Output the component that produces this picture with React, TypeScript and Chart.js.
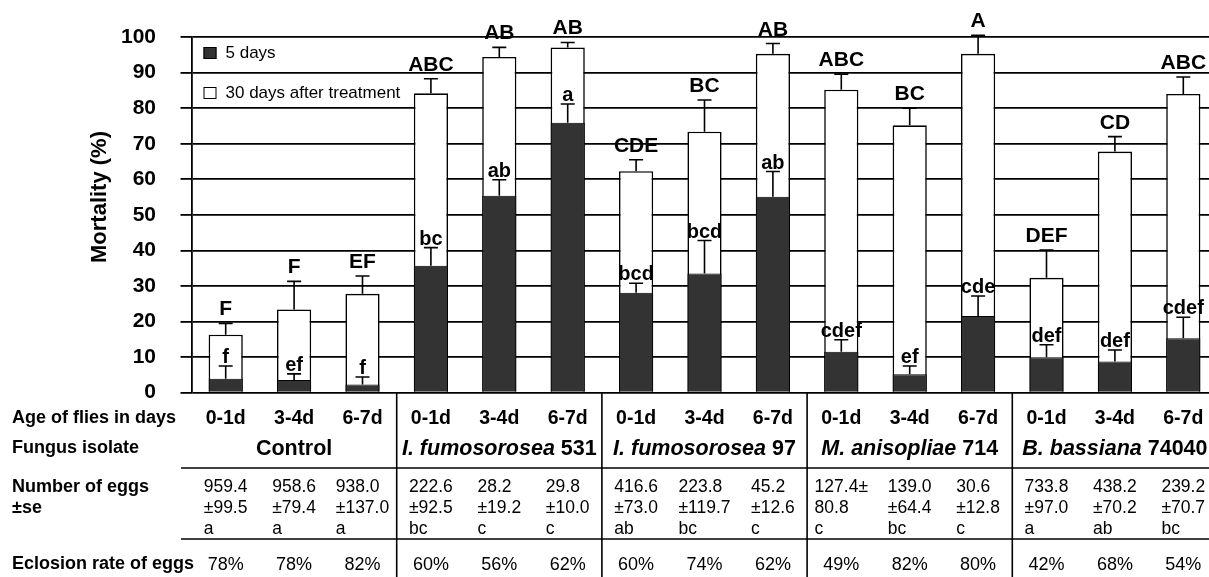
import React, { useEffect, useRef } from 'react';
import { Chart, registerables } from 'chart.js';

Chart.register(...registerables);

// ---- data ----
const ages = ['0-1d', '3-4d', '6-7d', '0-1d', '3-4d', '6-7d', '0-1d', '3-4d', '6-7d', '0-1d', '3-4d', '6-7d', '0-1d', '3-4d', '6-7d'];
const groupItalic = ['', 'I. fumosorosea', 'I. fumosorosea', 'M. anisopliae', 'B. bassiana'];
const groupPlain = ['Control', ' 531', ' 97', ' 714', ' 74040'];

const mort5 = [3.9, 3.6, 2.3, 35.7, 55.4, 75.9, 28.1, 33.5, 55.1, 11.5, 5.2, 21.6, 10.0, 8.8, 15.3];
const se5 = [3.6, 1.7, 2.1, 5.1, 4.5, 5.3, 2.7, 9.3, 7.1, 3.4, 2.3, 5.6, 3.5, 3.2, 5.9];
const mort30 = [16.3, 23.4, 27.8, 84.2, 94.4, 97.1, 62.3, 73.4, 95.3, 85.2, 75.2, 95.3, 32.3, 67.8, 84.0];
const se30 = [3.2, 7.9, 5.0, 4.1, 2.7, 1.4, 3.2, 8.9, 2.9, 4.4, 4.8, 5.2, 7.8, 4.2, 4.8];

const upperLetters = ['F', 'F', 'EF', 'ABC', 'AB', 'AB', 'CDE', 'BC', 'AB', 'ABC', 'BC', 'A', 'DEF', 'CD', 'ABC'];
const lowerLetters = ['f', 'ef', 'f', 'bc', 'ab', 'a', 'bcd', 'bcd', 'ab', 'cdef', 'ef', 'cde', 'def', 'def', 'cdef'];

const eggLine1 = ['959.4', '958.6', '938.0', '222.6', '28.2', '29.8', '416.6', '223.8', '45.2', '127.4±', '139.0', '30.6', '733.8', '438.2', '239.2'];
const eggLine2 = ['±99.5', '±79.4', '±137.0', '±92.5', '±19.2', '±10.0', '±73.0', '±119.7', '±12.6', '80.8', '±64.4', '±12.8', '±97.0', '±70.2', '±70.7'];
const eggLetters = ['a', 'a', 'a', 'bc', 'c', 'c', 'ab', 'bc', 'c', 'c', 'bc', 'c', 'a', 'ab', 'bc'];
const eclosion = ['78%', '78%', '82%', '60%', '56%', '62%', '60%', '74%', '62%', '49%', '82%', '80%', '42%', '68%', '54%'];

const yTicks = [0, 10, 20, 30, 40, 50, 60, 70, 80, 90, 100];
const legendLabels = ['5 days', '30 days after treatment'];
const yTitle = 'Mortality (%)';
const rowLabels = ['Age of flies in days', 'Fungus isolate', 'Number of eggs', '±se', 'Eclosion rate of eggs'];

const FONT = '"Liberation Sans", Arial, Helvetica, sans-serif';

export default function App() {
  const ref = useRef<HTMLCanvasElement>(null);

  useEffect(() => {
    if (!ref.current) return;

    const overlay = {
      id: 'overlay',
      afterDatasetsDraw(chart: any) {
        const ctx = chart.ctx as CanvasRenderingContext2D;
        const xs = chart.scales.x;
        const ys = chart.scales.y;
        const area = chart.chartArea;
        const W = chart.width;
        const H = chart.height;
        ctx.save();

        // error bars
        ctx.strokeStyle = '#000';
        ctx.lineWidth = 1.6;
        const cap = 7;
        const drawErr = (cx: number, v: number, e: number) => {
          const y0 = ys.getPixelForValue(v);
          const y1 = ys.getPixelForValue(v + e);
          ctx.beginPath();
          ctx.moveTo(cx, y0);
          ctx.lineTo(cx, y1);
          ctx.moveTo(cx - cap, y1);
          ctx.lineTo(cx + cap, y1);
          ctx.stroke();
        };
        for (let i = 0; i < ages.length; i++) {
          const cx = xs.getPixelForValue(i);
          drawErr(cx, mort30[i], se30[i]);
          drawErr(cx, mort5[i], se5[i]);
        }

        // letters
        ctx.fillStyle = '#000';
        ctx.textAlign = 'center';
        ctx.textBaseline = 'alphabetic';
        ctx.font = `bold 21px ${FONT}`;
        for (let i = 0; i < ages.length; i++) {
          const cx = xs.getPixelForValue(i);
          ctx.fillText(upperLetters[i], cx, ys.getPixelForValue(mort30[i] + se30[i]) - 8);
        }
        ctx.font = `bold 20px ${FONT}`;
        for (let i = 0; i < ages.length; i++) {
          const cx = xs.getPixelForValue(i);
          ctx.fillText(lowerLetters[i], cx, ys.getPixelForValue(mort5[i] + se5[i]) - 3);
        }

        // legend
        const lx = area.left + 12;
        ctx.lineWidth = 1;
        ctx.fillStyle = '#333';
        ctx.fillRect(lx, 47, 13, 12);
        ctx.strokeStyle = '#000';
        ctx.strokeRect(lx + 0.5, 47.5, 12, 11);
        ctx.fillStyle = '#fff';
        ctx.fillRect(lx, 87, 13, 12);
        ctx.strokeRect(lx + 0.5, 87.5, 12, 11);
        ctx.fillStyle = '#000';
        ctx.font = `17px ${FONT}`;
        ctx.textAlign = 'left';
        ctx.textBaseline = 'middle';
        ctx.fillText(legendLabels[0], lx + 22, 53);
        ctx.fillText(legendLabels[1], lx + 22, 93);

        // y title
        ctx.save();
        ctx.translate(100, 197);
        ctx.rotate(-Math.PI / 2);
        ctx.font = `bold 22px ${FONT}`;
        ctx.textAlign = 'center';
        ctx.textBaseline = 'middle';
        ctx.fillText(yTitle, 0, 0);
        ctx.restore();

        // table lines
        ctx.strokeStyle = '#000';
        ctx.lineWidth = 1.6;
        for (let g = 1; g < groupPlain.length; g++) {
          const bx = (xs.getPixelForValue(3 * g - 1) + xs.getPixelForValue(3 * g)) / 2;
          ctx.beginPath();
          ctx.moveTo(bx, area.bottom);
          ctx.lineTo(bx, H);
          ctx.stroke();
        }
        [468, 539].forEach((yy) => {
          ctx.beginPath();
          ctx.moveTo(181, yy);
          ctx.lineTo(W, yy);
          ctx.stroke();
        });

        // row labels
        ctx.fillStyle = '#000';
        ctx.textAlign = 'left';
        ctx.textBaseline = 'middle';
        ctx.font = `bold 18px ${FONT}`;
        const rowY = [418, 448, 487, 508, 564];
        rowLabels.forEach((t, k) => ctx.fillText(t, 12, rowY[k]));

        // ages
        ctx.textAlign = 'center';
        ctx.font = `bold 19.5px ${FONT}`;
        for (let i = 0; i < ages.length; i++) {
          ctx.fillText(ages[i], xs.getPixelForValue(i), 419);
        }

        // group names
        for (let g = 0; g < groupPlain.length; g++) {
          const cx = xs.getPixelForValue(3 * g + 1);
          ctx.font = `italic bold 21.5px ${FONT}`;
          const wi = groupItalic[g] ? ctx.measureText(groupItalic[g]).width : 0;
          ctx.font = `bold 21.5px ${FONT}`;
          const wp = ctx.measureText(groupPlain[g]).width;
          let sx = cx - (wi + wp) / 2;
          ctx.textAlign = 'left';
          if (groupItalic[g]) {
            ctx.font = `italic bold 21.5px ${FONT}`;
            ctx.fillText(groupItalic[g], sx, 449);
            sx += wi;
          }
          ctx.font = `bold 21.5px ${FONT}`;
          ctx.fillText(groupPlain[g], sx, 449);
        }

        // egg numbers
        ctx.font = `17.5px ${FONT}`;
        ctx.textAlign = 'left';
        for (let i = 0; i < ages.length; i++) {
          const cx = xs.getPixelForValue(i);
          const w = Math.max(ctx.measureText(eggLine1[i]).width, ctx.measureText(eggLine2[i]).width);
          const sx = cx - w / 2;
          ctx.fillText(eggLine1[i], sx, 487);
          ctx.fillText(eggLine2[i], sx, 508);
          ctx.fillText(eggLetters[i], sx, 529);
        }

        // eclosion
        ctx.font = `18px ${FONT}`;
        ctx.textAlign = 'center';
        for (let i = 0; i < ages.length; i++) {
          ctx.fillText(eclosion[i], xs.getPixelForValue(i), 565);
        }

        ctx.restore();
      },
    };

    const chart = new Chart(ref.current, {
      type: 'bar',
      data: {
        labels: ages.map((a, i) => `${a}-${i}`),
        datasets: [
          {
            label: legendLabels[0],
            data: mort5,
            backgroundColor: '#333333',
            borderColor: '#000',
            borderWidth: 1,
            grouped: false,
            order: 1,
            barPercentage: 0.5,
            categoryPercentage: 1,
          },
          {
            label: legendLabels[1],
            data: mort30,
            backgroundColor: '#ffffff',
            borderColor: '#000',
            borderWidth: 1.6,
            grouped: false,
            order: 2,
            barPercentage: 0.5,
            categoryPercentage: 1,
          },
        ],
      },
      options: {
        responsive: false,
        devicePixelRatio: 1,
        animation: false,
        layout: { padding: { top: 35.7, bottom: 184.3, left: 0, right: 2.5 } },
        plugins: { legend: { display: false }, tooltip: { enabled: false } },
        scales: {
          x: { display: false, grid: { display: false } },
          y: {
            min: 0,
            max: 100,
            afterFit: (s: any) => {
              s.width = 191.5;
            },
            afterBuildTicks: (s: any) => {
              s.ticks = yTicks.map((v) => ({ value: v }));
            },
            grid: { color: '#000', lineWidth: 1.8, tickLength: 11, drawTicks: true },
            border: { display: true, color: '#000', width: 1.8 },
            ticks: {
              padding: 24.5,
              color: '#000',
              font: { family: FONT, size: 21, weight: 'bold' },
            },
          },
        },
      },
      plugins: [overlay],
    } as any);

    return () => chart.destroy();
  }, []);

  return (
    <div
      style={{
        position: 'fixed',
        left: 0,
        top: 0,
        width: 1209,
        height: 577,
        overflow: 'hidden',
        background: '#fff',
      }}
    >
      <canvas ref={ref} width={1220} height={577} style={{ display: 'block', width: 1220, height: 577 }} />
    </div>
  );
}
